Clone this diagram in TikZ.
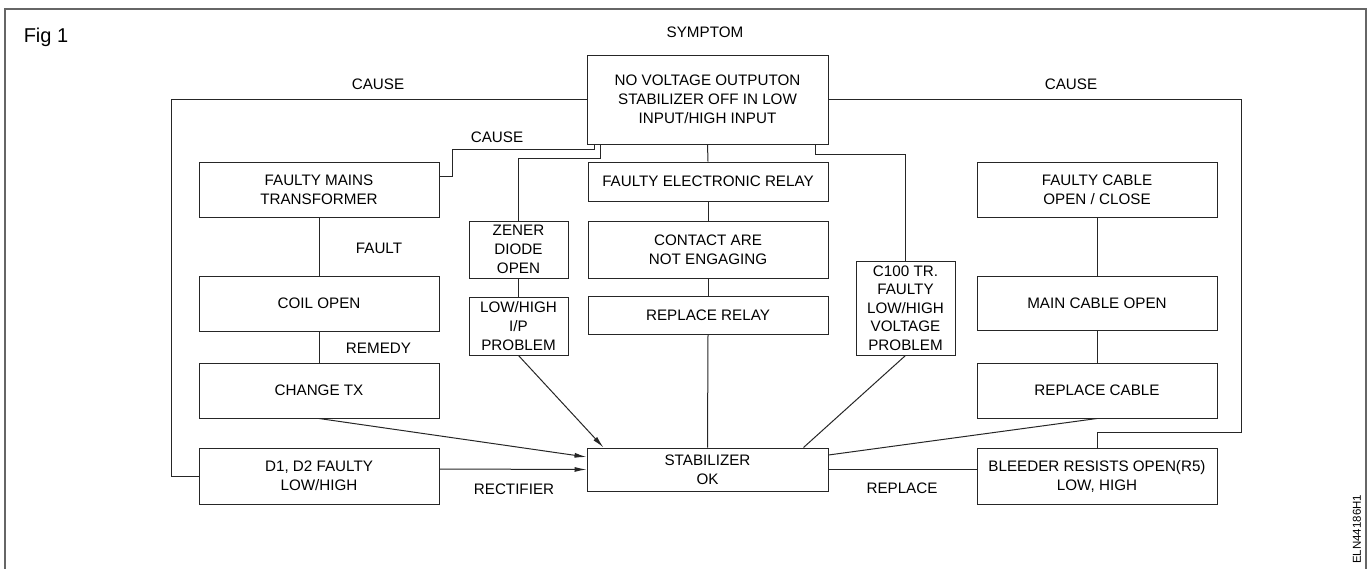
\documentclass[tikz,border=0pt]{standalone}
\usepackage{fontspec}
\setmainfont{Liberation Sans}
\usetikzlibrary{arrows.meta,calc}
\begin{document}
\begin{tikzpicture}[x=1pt,y=-1pt,
  box/.style={draw=black!85,line width=1pt,inner sep=0pt,align=center,
    font=\fontsize{15.2}{19}\selectfont},
  lbl/.style={inner sep=0pt,font=\fontsize{15.2}{19}\selectfont},
  conn/.style={draw=black!85,line width=1pt},
  arr/.style={conn,-{Latex[length=12pt,width=5pt]}},
  frame/.style={draw=black!60,line width=1.5pt}]
\useasboundingbox (0,0) rectangle (1371,568);
% frame
\draw[frame] (5,570) -- (5,9) -- (1366,9) -- (1366,570);
\node[lbl,font=\fontsize{20}{24}\selectfont] (fig) at (46,37) {Fig 1};
\node[lbl] (symlbl) at (705,32) {SYMPTOM};
% boxes
\node[box,minimum width=241pt,minimum height=89pt] (sym) at (707.5,99.5) {NO VOLTAGE OUTPUTON\\STABILIZER OFF IN LOW\\INPUT/HIGH INPUT};
\node[box,minimum width=240pt,minimum height=55pt] (mains) at (319,189.5) {FAULTY MAINS\\TRANSFORMER};
\node[box,minimum width=240pt,minimum height=55pt] (coil) at (319,303.5) {COIL OPEN};
\node[box,minimum width=240pt,minimum height=55pt] (tx) at (319,390.5) {CHANGE TX};
\node[box,minimum width=240pt,minimum height=56pt] (d1) at (319,476) {D1, D2 FAULTY\\LOW/HIGH};
\node[box,minimum width=99pt,minimum height=57pt] (zener) at (518.5,249.5) {ZENER\\DIODE\\OPEN};
\node[box,minimum width=99pt,minimum height=58pt] (lowhigh) at (518.5,326) {LOW/HIGH\\I/P\\PROBLEM};
\node[box,minimum width=240pt,minimum height=39pt] (relay) at (708,181.5) {FAULTY ELECTRONIC RELAY};
\node[box,minimum width=240pt,minimum height=57pt] (contact) at (708,249.5) {CONTACT ARE\\NOT ENGAGING};
\node[box,minimum width=240pt,minimum height=38pt] (replrelay) at (708,315) {REPLACE RELAY};
\node[box,minimum width=241pt,minimum height=43pt] (stab) at (707.5,469.5) {STABILIZER\\OK};
\node[box,minimum width=99pt,minimum height=94pt,font=\fontsize{15.2}{18.5}\selectfont] (c100) at (905.5,308) {C100 TR.\\FAULTY\\LOW/HIGH\\VOLTAGE\\PROBLEM};
\node[box,minimum width=240pt,minimum height=55pt] (cable) at (1097,189.5) {FAULTY CABLE\\OPEN / CLOSE};
\node[box,minimum width=240pt,minimum height=54pt] (maincable) at (1097,303) {MAIN CABLE OPEN};
\node[box,minimum width=240pt,minimum height=55pt] (replcable) at (1097,390.5) {REPLACE CABLE};
\node[box,minimum width=240pt,minimum height=56pt] (bleeder) at (1097,476) {BLEEDER RESISTS OPEN(R5)\\LOW, HIGH};
% labels
\node[lbl] (causeL) at (378,84) {CAUSE};
\node[lbl] (causeR) at (1071,84) {CAUSE};
\node[lbl] (causeM) at (497,137) {CAUSE};
\node[lbl] (fault) at (379,248) {FAULT};
\node[lbl] (remedy) at (378.5,348) {REMEDY};
\node[lbl] (rect) at (514,489) {RECTIFIER};
\node[lbl] (repl) at (902,488) {REPLACE};
\node[inner sep=0pt,rotate=90,anchor=west,font=\fontsize{11.5}{13}\selectfont] (code) at (1357,564) {ELN44186H1};
% connectors from symptom
\draw[conn] (sym.west) -- ++(-415,0) |- (d1.west);
\draw[conn] (sym.east) -- ++(413,0) |- ($(bleeder.north)+(0,-15)$) -- (bleeder.north);
\draw[conn] ([xshift=8pt]sym.south west) -- ++(0,5) -- ++(-142,0) |- ([yshift=13.5pt]mains.east);
\draw[conn] ([xshift=14pt]sym.south west) -- ++(0,14) -| (zener.north);
\draw[conn] (sym.south) -- (relay.north);
\draw[conn] ([xshift=-13pt]sym.south east) -- ++(0,10) -| (c100.north);
% chains
\draw[conn] (mains.south) -- (coil.north);
\draw[conn] (coil.south) -- (tx.north);
\draw[conn] (zener.south) -- (lowhigh.north);
\draw[conn] (relay.south) -- (contact.north);
\draw[conn] (contact.south) -- (replrelay.north);
\draw[conn] (replrelay.south) -- (stab.north);
\draw[conn] (cable.south) -- (maincable.north);
\draw[conn] (maincable.south) -- (replcable.north);
% into stabilizer
\draw[arr] (tx.south) -- ([yshift=12.5pt]stab.west);
\draw[arr] ([yshift=7pt]d1.east) -- (stab.west);
\draw[arr] (lowhigh.south) -- ([xshift=17pt]stab.north west);
\draw[conn] (c100.south) -- ([xshift=-25pt]stab.north east);
\draw[conn] (replcable.south) -- ([yshift=14.5pt]stab.east);
\draw[conn] (stab.east) -- (stab.east -| bleeder.west);
\end{tikzpicture}
\end{document}
